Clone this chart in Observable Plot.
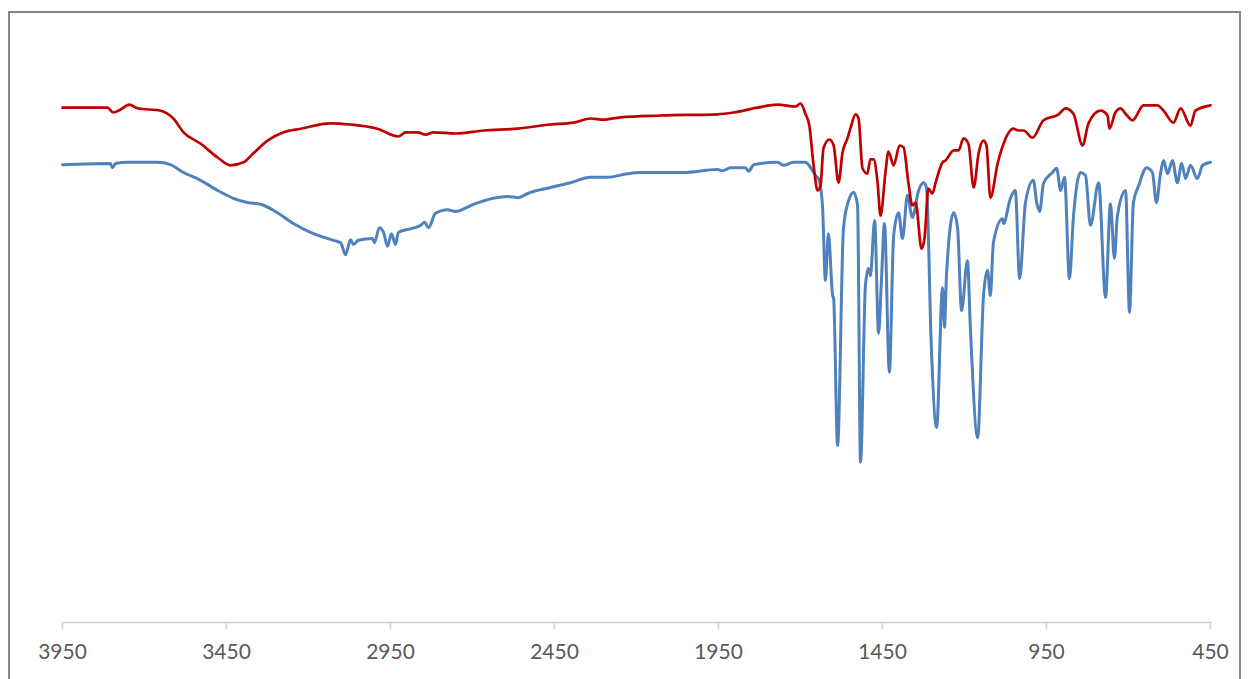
<!DOCTYPE html>
<html>
<head>
<meta charset="utf-8">
<script src="https://cdn.jsdelivr.net/npm/d3@7"></script>
<script src="https://cdn.jsdelivr.net/npm/@observablehq/plot@0.6"></script>
<style>
  html, body { margin: 0; padding: 0; background: #ffffff; overflow: hidden; }
  #wrap { position: relative; width: 1248px; height: 679px; }
  #frame { position: absolute; left: 8px; top: 11px; width: 1233px; height: 700px;
           border: 2px solid #868686; pointer-events: none; box-sizing: border-box; }
  #chart { position: absolute; left: 0; top: 0; }
</style>
</head>
<body>
<div id="wrap"><div id="chart"></div><div id="frame"></div></div>
<script>
// Wavenumber ticks (cm-1), reversed axis
const xTicks = [3950, 3450, 2950, 2450, 1950, 1450, 950, 450];

// Blue spectrum: wavenumber (cm-1) and transmittance (arbitrary %)
const blueWn = [3950,3804,3798,3788,3752,3660,3621,3581,3529,3477,3429,3386,3346,3307,3246,3185,3124,3102,3087,3072,3063,3048,3005,2999,2984,2971,2959,2947,2935,2926,2858,2846,2834,2813,2776,2752,2697,2636,2593,2560,2532,2462,2401,2340,2288,2227,2188,2057,1953,1938,1913,1868,1858,1843,1770,1752,1721,1685,1669,1654,1645,1633,1624,1615,1602,1599,1587,1569,1554,1538,1526,1517,1502,1493,1487,1474,1462,1453,1444,1429,1416,1401,1389,1374,1359,1340,1325,1316,1301,1285,1267,1261,1255,1233,1221,1209,1191,1182,1160,1142,1130,1121,1112,1084,1081,1060,1045,1032,1014,990,980,971,959,932,919,907,895,880,868,846,831,816,791,770,755,743,734,709,697,685,669,645,627,615,602,593,581,566,551,538,526,511,490,474,450];
const blueT  = [76.3,76.5,75.8,76.5,76.7,76.7,76.3,75.0,73.7,72.0,70.7,70.0,69.7,68.7,66.5,64.8,63.7,63.3,61.3,63.8,63.0,63.7,64.0,63.3,65.8,65.0,62.7,64.8,63.0,65.0,66.2,66.7,65.8,68.2,68.8,68.5,69.7,70.7,71.0,70.8,71.5,72.5,73.3,74.2,74.2,74.8,75.0,75.0,75.5,75.3,75.8,75.8,75.2,76.3,76.7,76.2,76.7,76.7,75.8,74.5,74.0,69.5,57.0,64.8,54.5,54.0,29.5,65.7,70.2,71.7,69.5,26.7,56.2,59.0,57.8,67.0,48.2,57.3,66.5,41.7,64.5,68.3,64.0,71.2,67.5,72.0,73.3,72.5,45.7,32.5,55.8,49.2,57.8,68.3,65.7,52.0,60.3,49.0,30.8,54.5,58.7,54.5,63.3,67.3,66.5,70.7,72.0,57.3,70.0,73.7,70.0,68.5,73.2,75.0,75.7,72.0,74.2,57.3,67.5,75.0,74.5,66.2,73.3,54.2,69.8,60.7,67.7,72.0,51.7,70.0,72.8,75.8,75.0,70.0,75.0,77.0,74.8,77.0,73.3,76.5,74.0,76.2,74.0,76.2,76.7];

// Red spectrum
const redWn = [3950,3834,3813,3795,3773,3746,3721,3651,3612,3581,3529,3477,3438,3398,3368,3325,3276,3224,3133,3072,2990,2926,2904,2868,2843,2819,2752,2666,2563,2462,2392,2340,2301,2249,2127,1953,1904,1831,1770,1715,1700,1685,1673,1660,1648,1639,1630,1612,1599,1584,1572,1557,1548,1532,1523,1511,1496,1487,1477,1465,1456,1441,1432,1416,1398,1386,1371,1359,1349,1331,1322,1310,1298,1288,1267,1258,1233,1218,1203,1188,1172,1157,1142,1133,1121,1099,1081,1051,1035,1020,993,959,913,892,868,840,822,785,764,758,740,724,709,688,654,612,593,563,541,511,496,450];
const redT  = [85.8,85.8,85.8,85.0,85.5,86.3,85.7,85.3,84.0,81.7,79.8,77.5,76.2,76.7,78.2,80.3,81.7,82.3,83.2,83.0,82.3,81.0,81.7,81.7,81.3,81.7,81.5,82.0,82.3,83.0,83.3,84.0,83.8,84.2,84.5,84.7,85.0,85.8,86.3,86.0,86.5,84.8,82.8,76.2,72.0,72.8,79.0,80.5,79.5,73.3,78.3,80.7,82.3,84.7,84.0,75.7,74.8,77.2,77.2,73.3,67.8,75.0,78.5,76.2,79.5,79.2,73.3,69.5,70.0,62.3,64.0,72.3,71.5,73.3,76.7,77.0,78.7,78.7,80.7,79.8,72.5,78.2,80.3,79.5,70.8,76.5,79.8,82.3,82.0,82.0,80.8,83.7,84.7,85.7,84.8,79.5,83.2,85.3,84.5,82.3,85.0,85.7,84.8,83.7,86.2,86.2,85.3,83.3,85.7,82.8,85.3,86.2];

const blue = blueWn.map((w, i) => ({wn: w, t: blueT[i]}));
const red = redWn.map((w, i) => ({wn: w, t: redT[i]}));

const chart = Plot.plot({
  width: 1248,
  height: 679,
  marginLeft: 62,
  marginRight: 38,
  marginTop: 22,
  marginBottom: 57,
  style: {fontFamily: "Lato, 'Open Sans', sans-serif", background: "transparent"},
  x: {domain: [3950, 450]},
  y: {domain: [0, 100], axis: null},
  marks: [
    Plot.ruleY([0], {stroke: "#d0d0d0", strokeWidth: 1.5}),
    Plot.axisX({ticks: xTicks, tickFormat: d => String(d), tickSize: 7, tickPadding: 15,
                stroke: "#d0d0d0", strokeWidth: 1.5, fill: "#595959", fontSize: 21, label: null}),
    Plot.line(blue, {x: "wn", y: "t", stroke: "#4f81bd", strokeWidth: 3, curve: "monotone-x"}),
    Plot.line(red, {x: "wn", y: "t", stroke: "#c00000", strokeWidth: 2.7, curve: "monotone-x"})
  ]
});
document.getElementById("chart").appendChild(chart);
</script>
</body>
</html>
